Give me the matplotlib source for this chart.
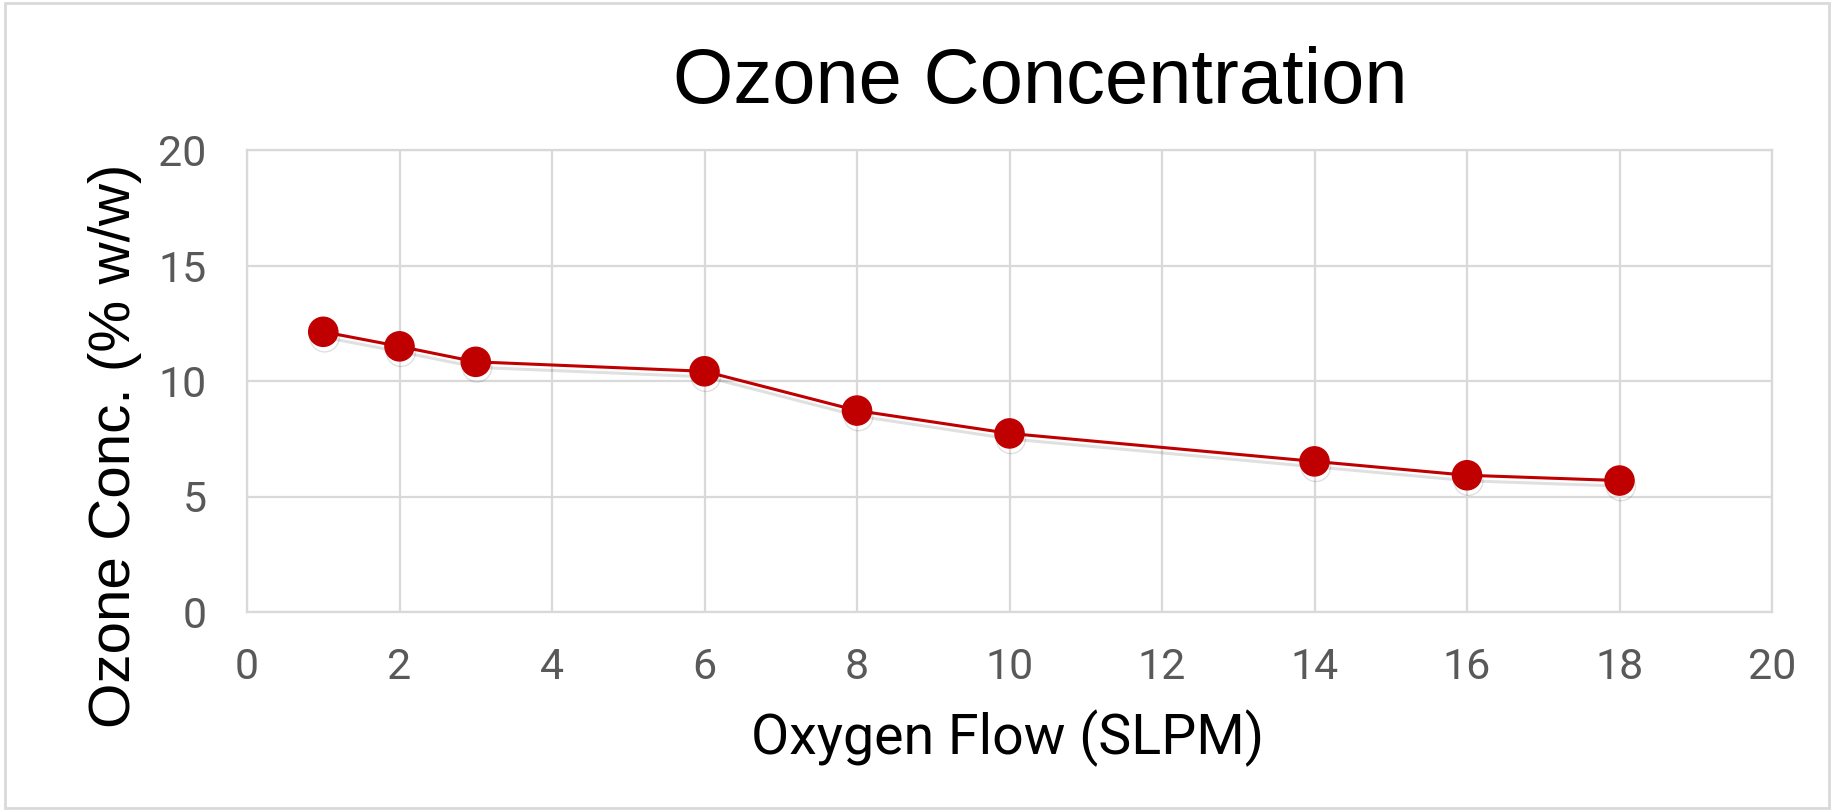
import matplotlib
matplotlib.use("Agg")
import matplotlib.pyplot as plt
import matplotlib.patheffects as pe
from matplotlib.patches import Rectangle

# Data
flow = [1, 2, 3, 6, 8, 10, 14, 16, 18]
conc = [12.13, 11.5, 10.83, 10.42, 8.72, 7.73, 6.52, 5.92, 5.69]
x_ticks = [0, 2, 4, 6, 8, 10, 12, 14, 16, 18, 20]
y_ticks = [0, 5, 10, 15, 20]
title = "Ozone Concentration"
x_label = "Oxygen Flow (SLPM)"
y_label = "Ozone Conc. (% w/w)"

W, H = 1837, 811
fig = plt.figure(figsize=(W / 100, H / 100), dpi=100)
fig.patch.set_facecolor("white")

L, R, T, B = 247, 1772, 150, 612
ax = fig.add_axes([L / W, 1 - B / H, (R - L) / W, (B - T) / H])
ax.set_xlim(0, 20)
ax.set_ylim(0, 20)
ax.set_xticks(x_ticks)
ax.set_yticks(y_ticks)
ax.grid(True, color="#d9d9d9", linewidth=1.6, zorder=0)
ax.set_axisbelow(True)
for s in ax.spines.values():
    s.set_color("#d9d9d9")
    s.set_linewidth(1.6)
ax.tick_params(axis="x", length=0, labelsize=31, labelcolor="#595959", pad=25)
ax.tick_params(axis="y", length=0, labelsize=31, labelcolor="#595959", pad=29)
for lab in ax.get_xticklabels() + ax.get_yticklabels():
    lab.set_fontfamily("Roboto")

ax.plot(flow, conc, color="#C00000", linewidth=2.2, marker="o",
        markersize=21, markerfacecolor="#C00000", markeredgecolor="#C00000",
        zorder=3,
        path_effects=[pe.SimpleLineShadow(offset=(1, -4), shadow_color="#000000", alpha=0.12),
                      pe.Normal()])

fig.text(1040 / W, 1 - 82 / H, title, ha="center", va="center",
         fontsize=56, fontfamily="Liberation Sans", color="black")
fig.text(1008 / W, 1 - 738 / H, x_label, ha="center", va="center",
         fontsize=40, fontfamily="Roboto", color="black")
fig.text(115 / W, 1 - 446 / H, y_label, ha="center", va="center", rotation=90,
         fontsize=42, fontfamily="Liberation Sans", color="black")

fig.patches.append(Rectangle((5 / W, 1 - 808 / H), (1829 - 5) / W, (808 - 3) / H,
                             transform=fig.transFigure, fill=False,
                             edgecolor="#d9d9d9", linewidth=2))

fig.savefig("out.png", dpi=100)
